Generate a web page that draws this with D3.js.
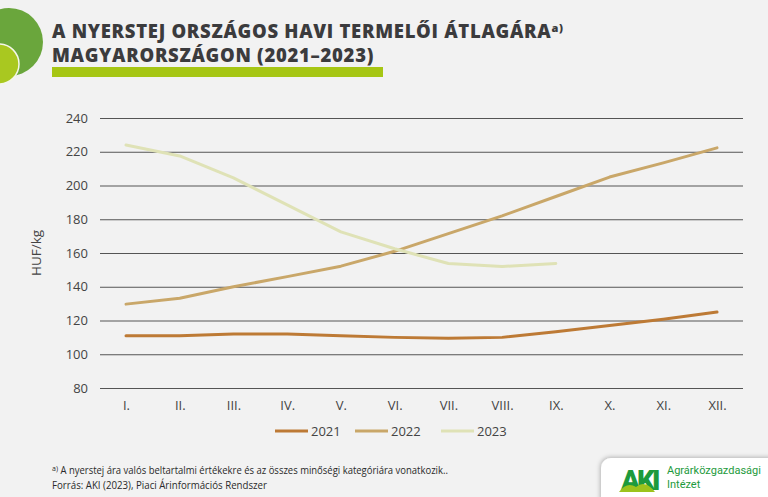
<!DOCTYPE html>
<html><head><meta charset="utf-8">
<script src="https://cdn.jsdelivr.net/npm/d3@7"></script>
<style>
html,body{margin:0;padding:0;background:#f2f2f2;}
svg{display:block;}
</style></head>
<body>
<svg id="chart" width="768" height="497"></svg>
<script>
const months = ["I.","II.","III.","IV.","V.","VI.","VII.","VIII.","IX.","X.","XI.","XII."];
const series2021 = [111, 111, 112, 112, 111, 110, 109.5, 110, 113.4, 117, 120.7, 125];
const series2022 = [129.7, 133.2, 140, 146, 152.2, 161, 171.5, 182, 193.5, 205, 213.4, 222.3];
const series2023 = [224, 217.5, 204.5, 188.5, 172.5, 162.5, 153.8, 152, 153.8];
const seriesNames = ["2021", "2022", "2023"];
const seriesColors = ["#bd7a35", "#c9a769", "#dfe2b6"];
const yTicks = [80, 100, 120, 140, 160, 180, 200, 220, 240];

const svg = d3.select("#chart");
svg.append("rect").attr("width",768).attr("height",497).attr("fill","#f2f2f2");

// decorative circles
svg.append("circle").attr("cx",9).attr("cy",42).attr("r",34).attr("fill","#6aa63c");
svg.append("circle").attr("cx",-1).attr("cy",64).attr("r",20).attr("fill","#a9c820").attr("stroke","#f4f7ea").attr("stroke-width",1.5);

// title
const tFont = "Open Sans, sans-serif";
const title = svg.append("text").attr("x",52).attr("y",38)
  .attr("font-family",tFont).attr("font-weight","800").attr("letter-spacing",0.7)
  .attr("font-size",18.5).attr("fill","#3b3b3d");
title.append("tspan").text("A NYERSTEJ ORSZÁGOS HAVI TERMELŐI ÁTLAGÁRA");
title.append("tspan").attr("font-size",11).attr("dy",-6).text("a)");
svg.append("text").attr("x",52).attr("y",62)
  .attr("font-family",tFont).attr("font-weight","800").attr("letter-spacing",0.7)
  .attr("font-size",18.5).attr("fill","#3b3b3d").text("MAGYARORSZÁGON (2021–2023)");
svg.append("rect").attr("x",52).attr("y",67).attr("width",331).attr("height",10).attr("fill","#a6c614");

// scales
const x = d3.scalePoint().domain(months).range([126, 717]);
const y = d3.scaleLinear().domain([80, 240]).range([388, 118]);

// grid
const grid = svg.append("g").attr("transform","translate(100,0)")
  .call(d3.axisLeft(y).tickValues(yTicks).tickSize(-643).tickFormat(""));
grid.select(".domain").remove();
grid.selectAll(".tick line").attr("stroke","#555").attr("stroke-width",1);

const yAxis = svg.append("g").attr("transform","translate(100,0)")
  .call(d3.axisLeft(y).tickValues(yTicks).tickSize(0).tickPadding(12).tickFormat(d3.format("d")));
yAxis.select(".domain").remove();
yAxis.selectAll("text").attr("font-family","Open Sans, sans-serif").attr("font-size",13).attr("fill","#444");

const xAxis = svg.append("g").attr("transform","translate(0,395)")
  .call(d3.axisBottom(x).tickSize(0).tickPadding(6));
xAxis.select(".domain").remove();
xAxis.selectAll("text").attr("font-family","Open Sans, sans-serif").attr("font-size",13).attr("fill","#444");

svg.append("text").attr("transform","translate(41,253) rotate(-90)").attr("text-anchor","middle")
  .attr("font-family","Open Sans, sans-serif").attr("font-size",13.5).attr("fill","#444").text("HUF/kg");

// lines
const line = d3.line().x((d,i)=>x(months[i])).y(d=>y(d));
[series2021, series2022, series2023].forEach((s,i)=>{
  svg.append("path").datum(s).attr("d",line).attr("fill","none")
    .attr("stroke",seriesColors[i]).attr("stroke-width",3).attr("stroke-linecap","round").attr("stroke-linejoin","round");
});

// legend
const legX = [275, 355, 441];
seriesNames.forEach((n,i)=>{
  svg.append("line").attr("x1",legX[i]).attr("x2",legX[i]+33).attr("y1",431).attr("y2",431)
    .attr("stroke",seriesColors[i]).attr("stroke-width",3);
  svg.append("text").attr("x",legX[i]+36).attr("y",436).attr("font-family","Open Sans, sans-serif")
    .attr("font-size",13).attr("fill","#444").text(n);
});

// footnote
const fn = svg.append("text").attr("x",52).attr("y",474).attr("font-family","Open Sans, sans-serif")
  .attr("font-size",10.5).attr("fill","#2a2a2a");
fn.append("tspan").attr("font-size",7).attr("dy",-3).text("a)");
fn.append("tspan").attr("dy",3).attr("textLength",390).attr("lengthAdjust","spacingAndGlyphs")
  .text(" A nyerstej ára valós beltartalmi értékekre és az összes minőségi kategóriára vonatkozik..");
svg.append("text").attr("x",52).attr("y",489).attr("font-family","Open Sans, sans-serif")
  .attr("font-size",10.5).attr("fill","#2a2a2a").attr("textLength",215).attr("lengthAdjust","spacingAndGlyphs")
  .text("Forrás: AKI (2023), Piaci Árinformációs Rendszer");

// logo box
const defs = svg.append("defs");
const f = defs.append("filter").attr("id","sh").attr("x","-20%").attr("y","-20%").attr("width","140%").attr("height","140%");
f.append("feDropShadow").attr("dx",-1).attr("dy",-1).attr("stdDeviation",2).attr("flood-color","#000").attr("flood-opacity",0.25);
svg.append("rect").attr("x",601).attr("y",458).attr("width",180).attr("height",50).attr("rx",10)
  .attr("fill","#fff").attr("filter","url(#sh)");
svg.append("text").attr("x",621).attr("y",490).attr("font-family","Roboto, sans-serif").attr("font-weight","900")
  .attr("font-size",28).attr("fill","#1d9a3c").attr("letter-spacing",-3).text("AKI");
svg.append("path").attr("d","M619,492 Q627,481 636,487 Q645,479 655,492 Z").attr("fill","#9cc31c");
svg.append("text").attr("x",667).attr("y",474).attr("font-family","Roboto, sans-serif")
  .attr("font-size",11).attr("fill","#1d9a3c").text("Agrárközgazdasági");
svg.append("text").attr("x",667).attr("y",488).attr("font-family","Roboto, sans-serif")
  .attr("font-size",11).attr("fill","#1d9a3c").text("Intézet");
</script>
</body></html>
